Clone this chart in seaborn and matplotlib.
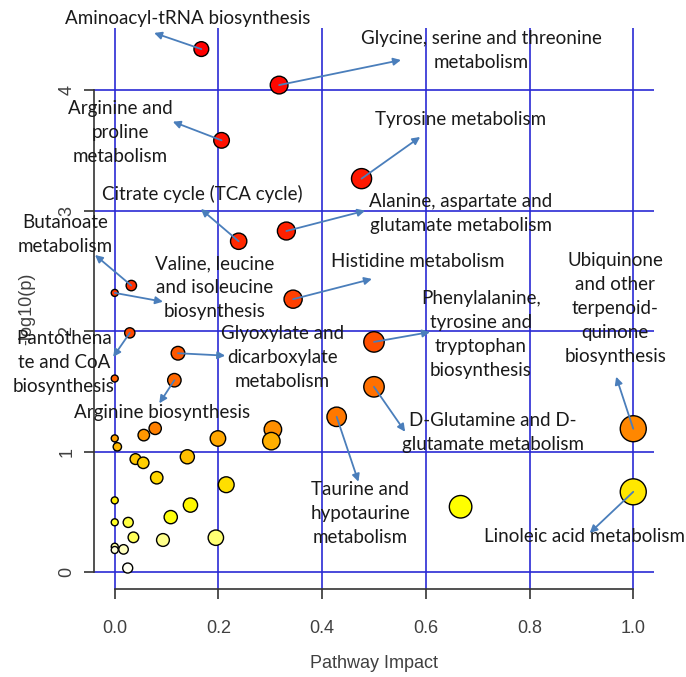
import colorsys
import numpy as np
import pandas as pd
import matplotlib
matplotlib.use('Agg')
import matplotlib.pyplot as plt
import seaborn as sns
from matplotlib.colors import ListedColormap

# pathway impact (x) and -log10(p) (y), sorted by p
impact = [0.167, 0.317, 0.206, 0.476, 0.331, 0.239, 0.032, 0.0, 0.344, 0.029,
          0.5, 0.122, 0.0, 0.115, 0.5, 0.428, 0.078, 1.0, 0.305, 0.056,
          0.0, 0.199, 0.302, 0.005, 0.140, 0.040, 0.055, 0.081, 0.215, 1.0,
          0.0, 0.146, 0.667, 0.108, 0.0, 0.026, 0.036, 0.195, 0.093, 0.0,
          0.017, 0.0, 0.025]
neglogp = [4.343, 4.044, 3.585, 3.267, 2.832, 2.747, 2.379, 2.318, 2.266, 1.986,
           1.911, 1.817, 1.607, 1.593, 1.538, 1.289, 1.193, 1.190, 1.184, 1.137,
           1.110, 1.109, 1.087, 1.040, 0.957, 0.938, 0.907, 0.783, 0.725, 0.666,
           0.595, 0.556, 0.542, 0.456, 0.413, 0.412, 0.288, 0.285, 0.266, 0.210,
           0.188, 0.183, 0.033]
pathway = ['Aminoacyl-tRNA biosynthesis', 'Glycine, serine and threonine metabolism',
           'Arginine and proline metabolism', 'Tyrosine metabolism',
           'Alanine, aspartate and glutamate metabolism', 'Citrate cycle (TCA cycle)',
           'Butanoate metabolism', 'Valine, leucine and isoleucine biosynthesis',
           'Histidine metabolism', 'Pantothenate and CoA biosynthesis',
           'Phenylalanine, tyrosine and tryptophan biosynthesis',
           'Glyoxylate and dicarboxylate metabolism', '', 'Arginine biosynthesis',
           'D-Glutamine and D-glutamate metabolism', 'Taurine and hypotaurine metabolism',
           '', 'Ubiquinone and other terpenoid-quinone biosynthesis'] + [''] * 11 + \
          ['Linoleic acid metabolism'] + [''] * 13

# label text, text position, arrow head position
labels = {
    'Aminoacyl-tRNA biosynthesis': ('Aminoacyl-tRNA biosynthesis', (0.141, 4.593), (0.076, 4.477)),
    'Glycine, serine and threonine metabolism': ('Glycine, serine and threonine\nmetabolism', (0.707, 4.327), (0.552, 4.252)),
    'Arginine and proline metabolism': ('Arginine and\nproline\nmetabolism', (0.010, 3.654), (0.112, 3.740)),
    'Tyrosine metabolism': ('Tyrosine metabolism', (0.666, 3.754), (0.589, 3.613)),
    'Citrate cycle (TCA cycle)': ('Citrate cycle (TCA cycle)', (0.169, 3.140), (0.166, 3.015)),
    'Alanine, aspartate and glutamate metabolism': ('Alanine, aspartate and\nglutamate metabolism', (0.668, 2.978), (0.483, 3.001)),
    'Butanoate metabolism': ('Butanoate\nmetabolism', (-0.096, 2.807), (-0.038, 2.633)),
    'Valine, leucine and isoleucine biosynthesis': ('Valine, leucine\nand isoleucine\nbiosynthesis', (0.193, 2.359), (0.093, 2.245)),
    'Histidine metabolism': ('Histidine metabolism', (0.585, 2.575), (0.496, 2.434)),
    'Pantothenate and CoA biosynthesis': ('Pantothena\nte and CoA\nbiosynthesis', (-0.098, 1.744), (-0.003, 1.786)),
    'Glyoxylate and dicarboxylate metabolism': ('Glyoxylate and\ndicarboxylate\nmetabolism', (0.323, 1.780), (0.213, 1.797)),
    'Arginine biosynthesis': ('Arginine biosynthesis', (0.091, 1.323), (0.086, 1.401)),
    'Phenylalanine, tyrosine and tryptophan biosynthesis': ('Phenylalanine,\ntyrosine and\ntryptophan\nbiosynthesis', (0.706, 1.975), (0.608, 1.993)),
    'Ubiquinone and other terpenoid-quinone biosynthesis': ('Ubiquinone\nand other\nterpenoid-\nquinone\nbiosynthesis', (0.965, 2.189), (0.967, 1.622)),
    'D-Glutamine and D-glutamate metabolism': ('D-Glutamine and D-\nglutamate metabolism', (0.729, 1.159), (0.560, 1.165)),
    'Taurine and hypotaurine metabolism': ('Taurine and\nhypotaurine\nmetabolism', (0.473, 0.484), (0.470, 0.750)),
    'Linoleic acid metabolism': ('Linoleic acid metabolism', (0.905, 0.291), (0.916, 0.324)),
}


def heat_colors(n):
    # R heat.colors: red -> yellow, then yellow fading to white
    j = n // 4
    i = n - j
    cols = [colorsys.hsv_to_rgb(h, 1, 1) for h in np.linspace(0, 1 / 6, i)]
    if j > 0:
        cols += [colorsys.hsv_to_rgb(1 / 6, s, 1) for s in np.linspace(1 - 1 / (2 * j), 1 / (2 * j), j)]
    return cols


df = pd.DataFrame({'impact': impact, 'p': neglogp, 'name': pathway})
n = len(df)
df['rank'] = df['p'].rank(ascending=False, method='first') - 1

# circle radius (px) grows with sqrt(impact); marker area in pt^2
size_dict = {v: (2 * (3.5 + 9.5 * np.sqrt(v)) * 0.72) ** 2 for v in df['impact'].unique()}

sns.set_style('ticks')
plt.rcParams['font.family'] = ['Lato', 'DejaVu Sans']

fig = plt.figure(figsize=(6.86, 6.77), dpi=100)
ax = fig.add_axes([94 / 686, 88 / 677, 560 / 686, 561 / 677])

sns.scatterplot(data=df, x='impact', y='p', hue='rank', palette=ListedColormap(heat_colors(n)),
                hue_norm=(0, n - 1), size='impact', sizes=size_dict, edgecolor='black',
                linewidth=1.0, legend=False, ax=ax, zorder=3)

ax.set_xlim(-0.04, 1.04)
ax.set_ylim(-0.141, 4.518)
ax.set_xticks([0, 0.2, 0.4, 0.6, 0.8, 1.0])
ax.set_xticklabels(['0.0', '0.2', '0.4', '0.6', '0.8', '1.0'])
ax.set_yticks([0, 1, 2, 3, 4])
ax.grid(True, color='#2a2ad4', lw=1.2)
ax.set_axisbelow(True)

for s in ['top', 'right']:
    ax.spines[s].set_visible(False)
ax.spines['left'].set_bounds(0, 4)
ax.spines['bottom'].set_bounds(0, 1)
for s in ['left', 'bottom']:
    ax.spines[s].set_color('#333333')
    ax.spines[s].set_linewidth(1.2)

tick_font = {'family': 'Liberation Sans', 'size': 13}
ax.tick_params(axis='both', direction='out', length=7.5, width=1.2, color='#333333', labelcolor='#404040')
ax.tick_params(axis='x', pad=15)
ax.tick_params(axis='y', pad=6)
for lab in ax.get_xticklabels():
    lab.set_fontproperties(tick_font)
for lab in ax.get_yticklabels():
    lab.set_fontproperties(tick_font)
    lab.set_rotation(90)
    lab.set_va('center')

ax.set_xlabel('Pathway Impact', fontdict=tick_font, color='#404040', va='center')
ax.set_ylabel('-log10(p)', fontdict=tick_font, color='#404040', va='center')
ax.xaxis.set_label_coords(0.5, (589 - 663) / 561)
ax.yaxis.set_label_coords((27 - 94) / 560, 0.5)

for name, (txt, txy, head) in labels.items():
    row = df[df['name'] == name].iloc[0]
    ax.annotate('', xy=head, xytext=(row['impact'], row['p']),
                arrowprops=dict(arrowstyle='-|>', color='#4a7ebb', lw=1.3,
                                mutation_scale=11, shrinkA=0, shrinkB=0),
                zorder=4, annotation_clip=False)
    ax.text(txy[0], txy[1], txt, ha='center', va='center', fontsize=13.5,
            color='#1a1a1a', zorder=5, linespacing=1.5, clip_on=False)

fig.savefig('out.png', dpi=100)
